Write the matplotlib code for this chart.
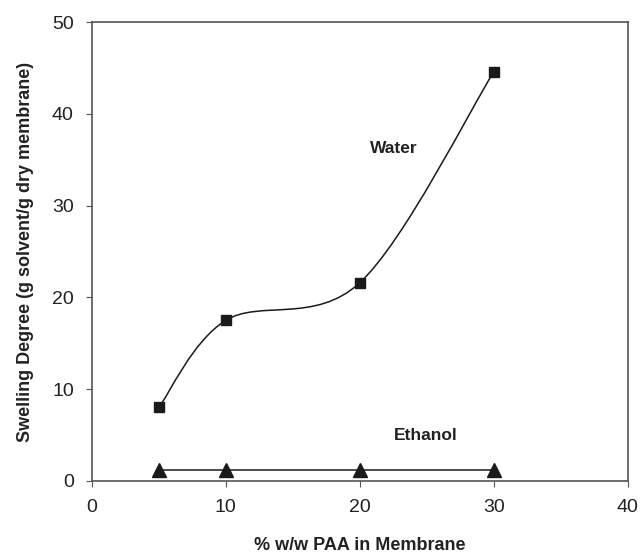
import numpy as np
import matplotlib
matplotlib.use("Agg")
import matplotlib.pyplot as plt
from matplotlib.path import Path
from matplotlib.patches import PathPatch

plt.rcParams['font.family'] = ['Liberation Sans', 'DejaVu Sans']

# data
paa = [5, 10, 20, 30]
water = [8.0, 17.5, 21.6, 44.6]
ethanol = [1.2, 1.2, 1.2, 1.2]


def smooth_path(xs, ys):
    # Excel-style smoothed line: cubic bezier, control points from neighbours
    pts = np.column_stack([xs, ys]).astype(float)
    n = len(pts)
    verts = [pts[0]]
    codes = [Path.MOVETO]
    for i in range(n - 1):
        p0 = pts[max(i - 1, 0)]
        p1 = pts[i]
        p2 = pts[i + 1]
        p3 = pts[min(i + 2, n - 1)]
        c1 = p1 + (p2 - p0) / 6.0
        c2 = p2 - (p3 - p1) / 6.0
        verts += [c1, c2, p2]
        codes += [Path.CURVE4] * 3
    return Path(verts, codes)


fig = plt.figure(figsize=(6.42, 5.54), dpi=100)
ax = fig.add_axes([0.143, 0.132, 0.835, 0.828])

ax.add_patch(PathPatch(smooth_path(paa, water), fill=False, color='#1a1a1a', lw=1.1))
ax.plot(paa, water, ls='none', marker='s', ms=7.5, color='#1a1a1a')
ax.plot(paa, ethanol, color='#1a1a1a', lw=1.1, marker='^', ms=9.5)

ax.text(22.5, 36.2, 'Water', fontsize=12.5, fontweight='bold', color='#222222', ha='center', va='center')
ax.text(24.9, 5.0, 'Ethanol', fontsize=12.5, fontweight='bold', color='#222222', ha='center', va='center')

ax.set_xlim(0, 40)
ax.set_ylim(0, 50)
ax.set_xticks([0, 10, 20, 30, 40])
ax.set_yticks([0, 10, 20, 30, 40, 50])
ax.tick_params(direction='out', length=4, width=0.8, color='#555555', labelsize=14, pad=9,
               labelcolor='#222222')
for s in ax.spines.values():
    s.set_color('#555555')
    s.set_linewidth(1.2)

ax.set_xlabel('% w/w PAA in Membrane', fontsize=13, fontweight='bold', color='#222222', labelpad=15)
ax.set_ylabel('Swelling Degree (g solvent/g dry membrane)', fontsize=13, fontweight='bold',
              color='#222222', labelpad=13)

fig.savefig('out.png', dpi=100)
